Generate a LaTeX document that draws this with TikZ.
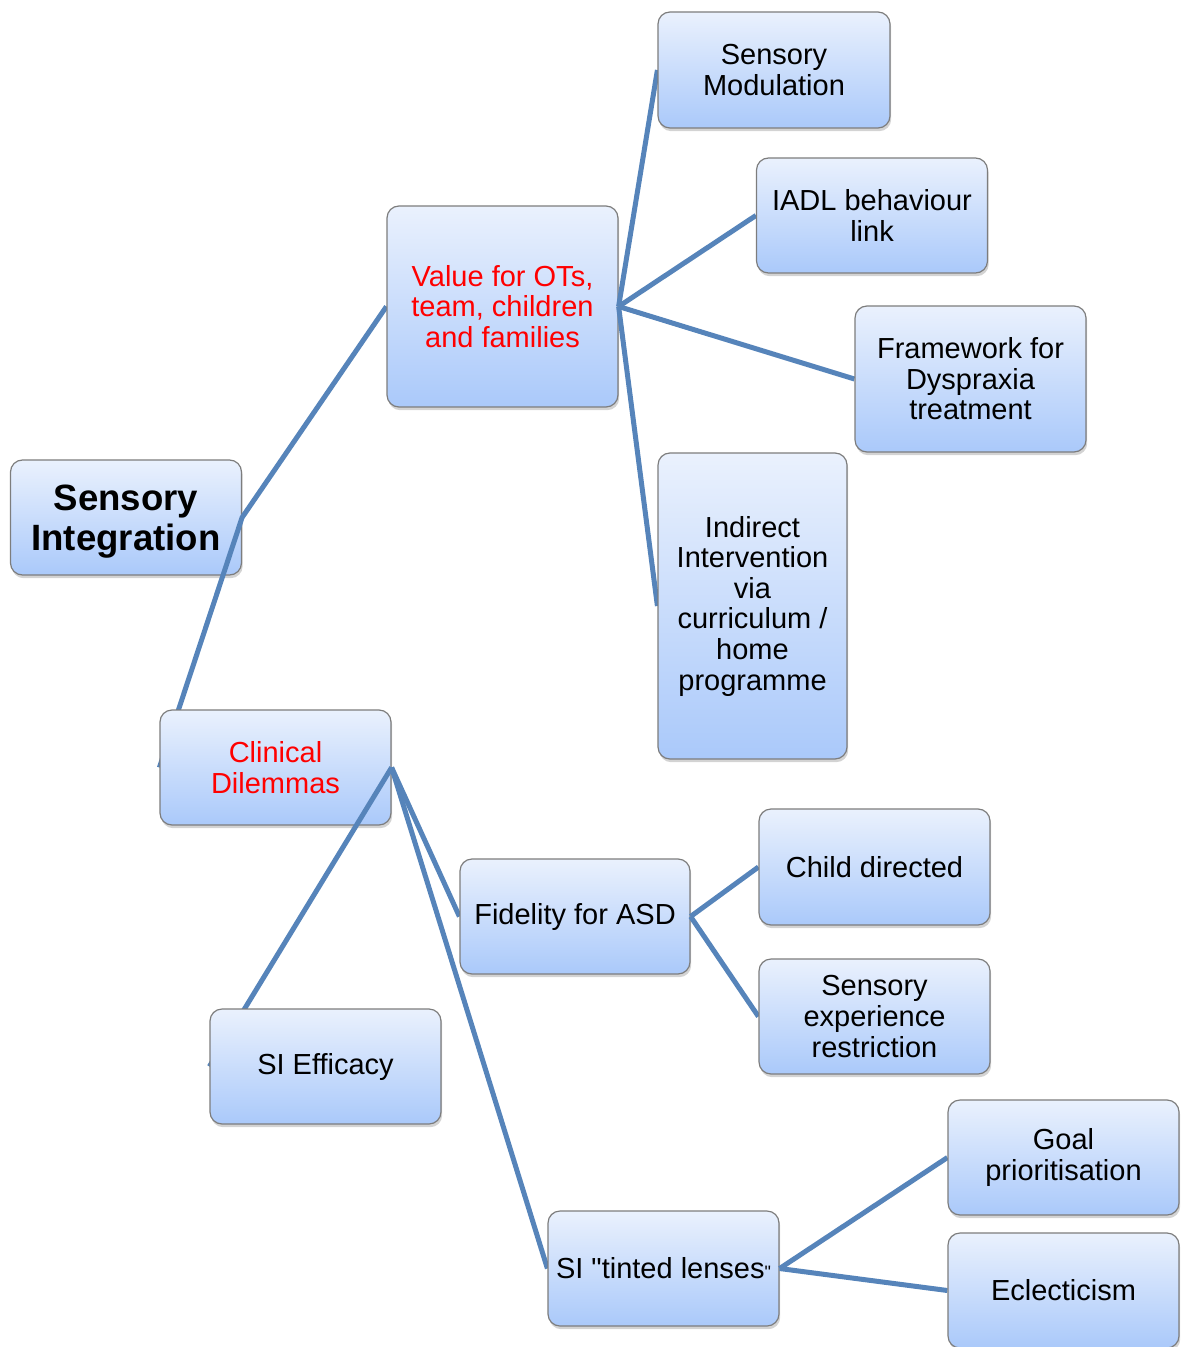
\documentclass[tikz,border=0pt]{standalone}
\usepackage{fontspec}
\setmainfont{Liberation Sans}
\usetikzlibrary{shadows}
\definecolor{linkblue}{RGB}{86,132,186}
\definecolor{boxtop}{RGB}{234,241,253}
\definecolor{boxbot}{RGB}{170,201,250}
\definecolor{boxline}{RGB}{125,125,125}
\definecolor{labelred}{RGB}{255,0,0}
% straight double quote glyph, set directly so no font mapping curls it
\newcommand\plainquote{\XeTeXglyph\XeTeXglyphindex "quotedbl"\relax}
% stacking order: each connector lies over its parent box and under its child box
\pgfdeclarelayer{tierzero}
\pgfdeclarelayer{linkone}
\pgfdeclarelayer{tierone}
\pgfdeclarelayer{linktwo}
\pgfdeclarelayer{tiertwo}
\pgfdeclarelayer{linkthree}
\pgfsetlayers{tierzero,linkone,tierone,linktwo,tiertwo,linkthree,main}
\begin{document}
\begin{tikzpicture}[x=0.5pt,y=-0.5pt,
  topic/.style={draw=boxline, line width=0.6pt, rounded corners=6pt,
    top color=boxtop, bottom color=boxbot, align=center, inner sep=0pt,
    minimum width=115.5pt, minimum height=57.5pt,
    font=\fontsize{14.5}{15.3}\selectfont,
    drop shadow={shadow xshift=0.6pt, shadow yshift=-1.6pt, opacity=0.35}},
  link/.style={draw=linkblue, line width=2.5pt}]
\useasboundingbox (0,0) rectangle (1185,1347);

% central topic: box and its title set slightly low
\begin{pgfonlayer}{tierzero}
\node[topic] (root) at (126,517.5) {};
\node[align=center, inner sep=0pt, font=\fontsize{18.3}{20}\selectfont\bfseries] (roottitle) at (126,522) {Sensory\\Integration};
\end{pgfonlayer}

% main branches
\begin{pgfonlayer}{tierone}
\node[topic, text=labelred, minimum height=100.5pt] (value) at (502.5,306.5) {Value for OTs,\\team, children\\and families};
\node[topic, text=labelred] (clin) at (275.5,767.5) {Clinical\\Dilemmas};
\end{pgfonlayer}

% leaves and sub-branches
\begin{pgfonlayer}{tiertwo}
\node[topic, minimum width=116pt, minimum height=58pt] (sm) at (774,70) {Sensory\\Modulation};
\node[topic] (iadl) at (872,215.5) {IADL behaviour\\link};
\node[topic, minimum height=73pt] (frame) at (970.5,379) {Framework for\\Dyspraxia\\treatment};
\node[topic, minimum width=94.5pt, minimum height=153pt] (indir) at (752.5,606) {Indirect\\Intervention\\via\\curriculum /\\home\\programme};
\node[topic, minimum width=115pt] (fid) at (575,916.5) {Fidelity for ASD};
\node[topic] (eff) at (325.5,1066.5) {SI Efficacy};
\node[topic] (tint) at (663.5,1268.5) {SI \plainquote tinted lenses{\fontsize{9}{9}\selectfont\plainquote}};
\end{pgfonlayer}

\node[topic, minimum height=58pt] (child) at (874.5,867) {Child directed};
\node[topic] (sexp) at (874.5,1016.5) {Sensory\\experience\\restriction};
\node[topic] (goal) at (1063.5,1157.5) {Goal\\prioritisation};
\node[topic] (ecl) at (1063.5,1290.5) {Eclecticism};

% connectors
\begin{pgfonlayer}{linkone}
  \draw[link] (value.west) -- (root.east) -- (clin.west);
\end{pgfonlayer}
\begin{pgfonlayer}{linktwo}
  \draw[link] (value.east) -- (sm.west);
  \draw[link] (value.east) -- (iadl.west);
  \draw[link] (value.east) -- (frame.west);
  \draw[link] (value.east) -- (indir.west);
  \draw[link] (clin.east) -- (fid.west);
  \draw[link] (clin.east) -- (eff.west);
  \draw[link] (clin.east) -- (tint.west);
\end{pgfonlayer}
\begin{pgfonlayer}{linkthree}
  \draw[link] (fid.east) -- (child.west);
  \draw[link] (fid.east) -- (sexp.west);
  \draw[link] (tint.east) -- (goal.west);
  \draw[link] (tint.east) -- (ecl.west);
\end{pgfonlayer}
\end{tikzpicture}
\end{document}
